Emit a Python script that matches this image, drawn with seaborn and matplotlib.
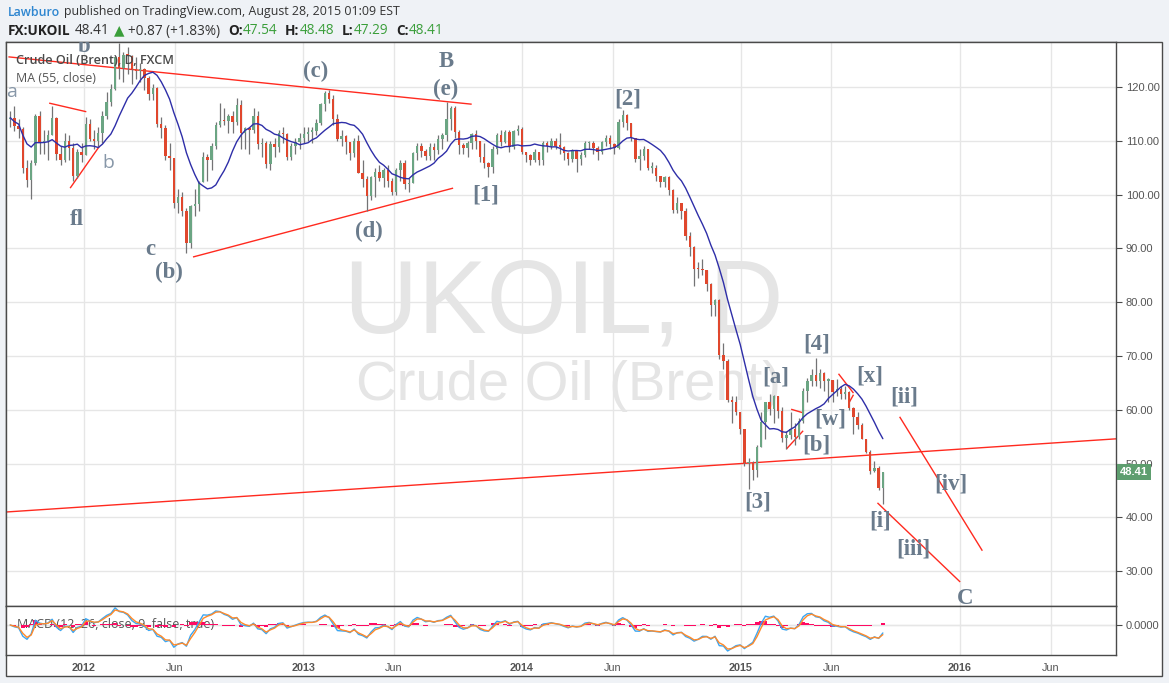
import numpy as np
import pandas as pd
import matplotlib
matplotlib.use("Agg")
import matplotlib.pyplot as plt
import matplotlib.dates as mdates
import matplotlib.transforms as mtransforms
from matplotlib.patches import Rectangle
import seaborn as sns

# ------------------------------------------------------------------ data
week_end = pd.date_range("2011-09-02", "2015-08-28", freq="W-FRI")   # weekly candles
first_open = 114.0
close = [
    # 2011
    114.3, 112.8, 112.2, 105.0, 102.8, 105.9, 114.6, 109.6, 109.9, 111.0, 114.2, 107.6, 106.4, 109.9, 108.6, 103.4, 107.9, 107.4,
    # 2012
    113.1, 110.4, 110.0, 111.5, 114.6, 117.3, 119.6, 125.5, 123.6, 125.9, 125.8, 123.3, 122.9, 123.4, 121.7, 118.7, 119.8, 113.2,
    112.3, 107.1, 106.8, 98.4, 99.5, 97.0, 91.0, 97.8, 98.2, 102.4, 107.0, 106.5, 109.0, 112.9, 113.7, 113.6, 114.6, 113.5,
    116.7, 111.4, 112.4, 112.0, 114.6, 109.4, 109.5, 105.7, 109.4, 108.9, 111.4, 111.2, 107.0, 109.1, 109.7, 110.6,
    # 2013
    111.3, 111.7, 111.9, 113.3, 116.8, 118.9, 117.7, 114.0, 110.4, 110.9, 109.8, 107.8, 110.0, 104.1, 102.9, 99.7, 103.2, 104.2,
    103.0, 104.6, 102.6, 100.4, 104.6, 105.9, 101.9, 102.2, 107.7, 109.0, 108.1, 107.2, 108.9, 108.3, 110.4, 111.0, 114.0, 116.1,
    111.7, 109.2, 108.6, 109.5, 111.3, 109.9, 106.9, 105.9, 105.1, 108.5, 111.1, 109.7, 111.6, 108.8, 111.8, 112.2,
    # 2014
    107.9, 107.3, 106.5, 107.9, 106.4, 109.6, 109.1, 109.9, 109.1, 108.9, 107.7, 106.7, 108.1, 106.7, 107.3, 109.5, 109.6, 108.6,
    108.0, 109.8, 110.5, 109.4, 108.6, 113.4, 114.8, 113.3, 110.6, 106.7, 107.2, 108.4, 105.0, 105.0, 103.5, 102.3, 103.2, 100.8,
    97.1, 98.4, 97.0, 92.3, 90.2, 86.2, 86.1, 85.9, 83.4, 79.4, 80.4, 70.2, 69.1, 61.9, 61.4, 59.5,
    # 2015
    56.4, 50.1, 50.2, 48.8, 53.0, 57.8, 61.5, 60.2, 62.6, 59.7, 54.7, 55.3, 56.4, 54.9, 57.9, 63.5, 65.3, 66.5,
    65.4, 66.8, 65.4, 65.6, 63.3, 63.9, 63.0, 63.3, 60.3, 58.7, 57.1, 54.6, 52.2, 48.6, 49.2, 45.5, 48.41,
]
high = [
    115.5, 116.5, 114.0, 112.5, 106.5, 106.5, 115.0, 115.5, 112.0, 112.0, 116.5, 114.5, 109.0, 111.5, 111.0, 109.5, 108.5, 109.5,
    114.5, 114.0, 112.0, 112.5, 115.5, 119.0, 120.5, 125.8, 128.2, 126.5, 127.5, 126.0, 125.5, 124.5, 123.5, 122.0, 120.5, 120.0,
    114.5, 113.0, 109.5, 106.5, 101.0, 100.5, 97.5, 98.0, 101.0, 102.5, 108.0, 107.5, 109.5, 113.5, 117.0, 116.0, 115.0, 115.5,
    118.0, 117.5, 112.5, 112.5, 116.0, 115.5, 110.5, 110.0, 110.0, 110.5, 112.0, 112.5, 111.5, 109.5, 110.5, 111.5,
    112.5, 112.5, 112.5, 114.0, 117.0, 119.2, 119.5, 118.5, 115.0, 112.0, 111.0, 109.5, 110.5, 111.0, 106.5, 103.5, 103.5, 105.0,
    105.5, 105.0, 105.5, 103.0, 105.0, 106.5, 106.5, 103.0, 108.0, 109.5, 109.5, 108.5, 109.5, 109.5, 111.0, 111.5, 117.3, 116.5,
    116.5, 112.0, 109.5, 110.0, 111.5, 112.0, 110.0, 109.5, 106.0, 109.0, 111.5, 112.0, 112.0, 112.0, 112.0, 113.0,
    112.5, 108.0, 107.5, 108.5, 108.0, 110.0, 110.0, 110.5, 110.5, 111.5, 109.0, 108.0, 108.5, 108.0, 108.0, 110.0, 110.0, 110.0,
    109.0, 110.0, 111.0, 111.0, 109.5, 114.0, 115.7, 115.0, 113.0, 110.5, 108.5, 109.0, 108.5, 106.0, 105.5, 103.5, 103.5, 103.5,
    101.0, 99.5, 98.5, 97.5, 93.0, 90.5, 87.5, 88.0, 86.0, 83.5, 80.5, 80.5, 72.5, 69.5, 62.5, 62.5,
    59.5, 56.5, 51.0, 50.5, 53.5, 59.5, 61.5, 63.0, 62.8, 62.5, 60.5, 56.0, 59.5, 57.5, 58.5, 64.0, 66.0, 67.5,
    69.6, 67.5, 67.0, 66.0, 65.5, 65.8, 64.5, 64.5, 63.5, 60.5, 59.5, 57.5, 54.5, 52.5, 50.5, 49.5, 48.5,
]
low = [
    112.5, 111.8, 110.5, 104.0, 101.5, 99.2, 105.5, 107.5, 107.5, 106.5, 111.0, 106.5, 105.5, 106.0, 106.5, 102.5, 103.0, 106.0,
    107.4, 110.0, 108.5, 109.0, 109.5, 114.0, 116.5, 119.5, 121.5, 121.0, 122.5, 120.5, 121.5, 121.0, 119.5, 117.5, 117.5, 112.5,
    110.5, 106.5, 104.5, 97.5, 96.5, 96.0, 89.2, 90.0, 96.0, 97.0, 102.5, 102.5, 104.5, 108.5, 112.5, 113.0, 111.5, 111.5,
    113.0, 108.5, 108.5, 107.5, 111.5, 108.5, 107.0, 105.0, 104.5, 107.0, 108.0, 109.5, 106.5, 106.5, 107.5, 108.5,
    109.5, 110.0, 109.5, 111.0, 113.0, 115.5, 117.0, 113.0, 110.0, 109.0, 107.5, 106.5, 107.0, 104.0, 101.5, 97.0, 99.0, 99.5,
    102.5, 101.5, 101.5, 100.0, 100.0, 102.5, 101.0, 100.5, 102.2, 106.5, 107.0, 106.5, 106.5, 106.5, 107.5, 108.5, 110.0, 112.0,
    110.5, 107.5, 107.5, 107.0, 108.5, 108.5, 106.0, 105.0, 103.3, 104.0, 107.5, 109.0, 109.5, 108.0, 108.5, 111.0,
    107.5, 106.0, 105.5, 106.0, 105.5, 105.5, 108.0, 108.5, 108.5, 107.5, 106.5, 105.5, 106.0, 104.2, 105.5, 107.0, 108.5, 107.5,
    106.5, 107.5, 109.0, 108.5, 107.5, 108.5, 112.5, 112.0, 110.0, 106.0, 104.5, 106.5, 104.5, 104.0, 102.5, 101.5, 101.5, 100.0,
    96.5, 96.5, 95.5, 91.5, 88.5, 83.0, 84.5, 85.0, 82.0, 77.5, 77.5, 69.5, 67.5, 61.5, 57.5, 59.0,
    55.5, 49.5, 45.2, 47.0, 47.5, 53.0, 54.5, 59.0, 57.5, 58.5, 54.0, 52.8, 54.5, 53.5, 54.5, 57.5, 61.5, 64.5,
    64.5, 64.0, 63.5, 61.5, 61.5, 62.5, 62.0, 62.0, 60.0, 55.5, 56.5, 54.5, 52.0, 48.0, 48.5, 45.0, 42.5,
]

ma_days = 55            # MA (55, close) -> 11 weekly bars
macd_params = (12, 26, 9)

x_tick_dates = ["2012-01-01", "2012-06-01", "2013-01-01", "2013-06-01", "2014-01-01",
                "2014-06-01", "2015-01-01", "2015-06-01", "2016-01-01", "2016-06-01"]
x_tick_labels = ["2012", "Jun", "2013", "Jun", "2014", "Jun", "2015", "Jun", "2016", "Jun"]
price_ticks = [30, 40, 50, 60, 70, 80, 90, 100, 110, 120]
last_price = 48.41

# Elliott-wave annotations (date, price, text, style)
wave_labels = [
    ("2012-01-02", 127.6, "b", "serif"),
    ("2011-09-02", 119.1, "a", "sans"),
    ("2012-02-11", 105.9, "b", "sans"),
    ("2011-12-21", 95.3, "fl", "serif"),
    ("2012-04-21", 89.7, "c", "serif"),
    ("2012-05-22", 85.6, "(b)", "serif"),
    ("2013-01-22", 122.8, "(c)", "serif"),
    ("2013-08-27", 124.8, "B", "serif"),
    ("2013-08-27", 119.6, "(e)", "serif"),
    ("2013-04-21", 93.2, "(d)", "serif"),
    ("2013-11-01", 99.9, "[1]", "serif"),
    ("2014-06-26", 117.8, "[2]", "serif"),
    ("2015-01-30", 42.9, "[3]", "serif"),
    ("2015-05-07", 72.2, "[4]", "serif"),
    ("2015-03-01", 66.1, "[a]", "serif"),
    ("2015-05-07", 53.5, "[b]", "serif"),
    ("2015-05-31", 58.3, "[w]", "serif"),
    ("2015-08-04", 66.3, "[x]", "serif"),
    ("2015-08-22", 39.3, "[i]", "serif"),
    ("2015-10-01", 62.4, "[ii]", "serif"),
    ("2015-10-16", 34.1, "[iii]", "serif"),
    ("2015-12-17", 46.2, "[iv]", "serif"),
    ("2016-01-10", 25.0, "C", "serif"),
]
# drawn trend lines (start date, start price, end date, end price)
trend_lines = [
    ("2011-08-28", 125.6, "2013-10-09", 116.8),
    ("2012-07-01", 88.4, "2013-09-08", 101.2),
    ("2011-11-04", 117.0, "2012-01-05", 115.4),
    ("2011-12-09", 101.2, "2012-01-27", 109.0),
    ("2011-08-24", 41.0, "2016-09-18", 54.6),
    ("2015-03-18", 52.7, "2015-04-15", 56.1),
    ("2015-03-26", 60.1, "2015-04-16", 59.4),
    ("2015-06-13", 66.7, "2015-07-08", 63.1),
    ("2015-07-01", 61.4, "2015-07-08", 62.8),
    ("2015-08-17", 42.7, "2016-01-02", 28.0),
    ("2015-09-23", 58.7, "2016-02-08", 33.8),
]

# ------------------------------------------------------------------ derived series
df = pd.DataFrame({"date": week_end, "close": close, "high": high, "low": low})
df["open"] = [first_open] + close[:-1]
df["high"] = df[["high", "open", "close"]].max(axis=1)
df["low"] = df[["low", "open", "close"]].min(axis=1)
df["x"] = mdates.date2num(df["date"] - pd.Timedelta(days=2))
wk = ma_days // 5
df["ma"] = df["close"].rolling(wk, min_periods=1).mean()
def wk_alpha(n):
    return 1 - (1 - 2 / (n + 1)) ** 5
ema_f = df["close"].ewm(alpha=wk_alpha(macd_params[0]), adjust=False).mean()
ema_s = df["close"].ewm(alpha=wk_alpha(macd_params[1]), adjust=False).mean()
df["macd"] = ema_f - ema_s
df["signal"] = df["macd"].ewm(alpha=wk_alpha(macd_params[2]), adjust=False).mean()
df["hist"] = df["macd"] - df["signal"]

# ------------------------------------------------------------------ figure
sns.set_theme(style="white")
plt.rcParams["font.family"] = ["Liberation Sans", "DejaVu Sans"]

W, H = 1169, 683
fig = plt.figure(figsize=(W / 100, H / 100), dpi=100)
fig.patch.set_facecolor("#eff2f6")
fx = lambda px: px / W
fy = lambda py: 1 - py / H

fig.patches.append(Rectangle((fx(6), fy(676)), fx(1162) - fx(6), fy(42) - fy(676),
                             transform=fig.transFigure, facecolor="white",
                             edgecolor="#4a4a4a", lw=1.0, zorder=-5))

ax = fig.add_axes([fx(6), fy(606), fx(1116) - fx(6), fy(42) - fy(606)])
axm = fig.add_axes([fx(6), fy(655), fx(1116) - fx(6), fy(606) - fy(655)], sharex=ax)

xmin = mdates.date2num(pd.Timestamp("2011-08-24"))
xmax = mdates.date2num(pd.Timestamp("2016-09-18"))
ax.set_xlim(xmin, xmax)
ax.set_ylim(23.53, 128.36)

grid_c = "#e6e6e6"
ticks_x = mdates.date2num(pd.to_datetime(x_tick_dates))
for a in (ax, axm):
    a.set_facecolor("white")
    a.set_axisbelow(True)
    for s in a.spines.values():
        s.set_color("#4a4a4a")
        s.set_linewidth(1.0)
    a.set_xticks(ticks_x)
    a.grid(True, color=grid_c, lw=1.0)

# watermark
ax.text(fx(564), fy(333), "UKOIL, D", transform=fig.transFigure, ha="center", va="baseline",
        fontsize=74, color="#e5e5e5", zorder=0.6, family=["Liberation Sans"])
ax.text(fx(569), fy(400), "Crude Oil (Brent)", transform=fig.transFigure, ha="center",
        va="baseline", fontsize=40.5, color="#e5e5e5", zorder=0.6, family=["Liberation Sans"])

# trend lines
for d0, p0, d1, p1 in trend_lines:
    ax.plot(mdates.date2num(pd.to_datetime([d0, d1])), [p0, p1], color="#ff2a1f",
            lw=1.0, zorder=2, solid_capstyle="butt")

# candles
up = df["close"] >= df["open"]
ax.vlines(df["x"], df["low"], df["high"], color="#737375", lw=0.9, zorder=3)
body = (df["close"] - df["open"]).abs().clip(lower=0.25)
bottom = df[["open", "close"]].min(axis=1)
ax.bar(df["x"][up], body[up], bottom=bottom[up], width=4.0, color="#6ba583", lw=0, zorder=3.5)
ax.bar(df["x"][~up], body[~up], bottom=bottom[~up], width=4.0, color="#e0472d", lw=0, zorder=3.5)

# moving average
sns.lineplot(x=df["x"], y=df["ma"], ax=ax, color="#2e2ea8", lw=1.0, zorder=4, legend=False)
ax.set_xlabel("")
ax.set_ylabel("")

# wave labels
for d, p, s, style in wave_labels:
    if style == "serif":
        ax.text(mdates.date2num(pd.Timestamp(d)), p, s, ha="center", va="center",
                family=["Liberation Serif"], fontweight="bold", fontsize=16.5,
                color="#6a7b8c", zorder=6, clip_on=True)
    else:
        ax.text(mdates.date2num(pd.Timestamp(d)), p, s, ha="center", va="center",
                family=["Open Sans", "DejaVu Sans"], fontsize=14, color="#8797a8",
                zorder=6, clip_on=True)

# legend text
ax.text(fx(16), fy(61), "Crude Oil (Brent), D, FXCM", transform=fig.transFigure, ha="left",
        va="center", fontsize=9.1, fontweight="semibold", color="#4a4a4a",
        family=["Open Sans", "DejaVu Sans"], zorder=7)
ax.text(fx(16), fy(78), "MA (55, close)", transform=fig.transFigure, ha="left",
        va="center", fontsize=8.9, color="#555555", family=["Open Sans", "DejaVu Sans"], zorder=7)

# price axis
ax.yaxis.tick_right()
ax.set_yticks(price_ticks)
ax.set_yticklabels([f"{v:.2f}" for v in price_ticks])
ax.tick_params(axis="y", which="both", right=True, length=4, width=0.8, color="#4a4a4a",
               labelsize=8, labelcolor="#555555", pad=3)
ax.tick_params(axis="x", length=0, labelbottom=False)

blend = mtransforms.blended_transform_factory(ax.transAxes, ax.transData)
ax.text((1120 - 6) / 1110, last_price, f"{last_price:.2f}", transform=blend, ha="left",
        va="center", fontsize=8, fontweight="bold", color="white", zorder=10, clip_on=False,
        bbox=dict(boxstyle="square,pad=0.28", fc="#5e9e6f", ec="none"))

# MACD panel
axm.axhline(0, color=grid_c, lw=1.0, zorder=0.5)
axm.bar(df["x"], df["hist"], width=7.0, color="#ff0a63", lw=0, zorder=2)
sns.lineplot(x=df["x"], y=df["macd"], ax=axm, color="#3ba6f2", lw=1.0, zorder=3, legend=False)
sns.lineplot(x=df["x"], y=df["signal"], ax=axm, color="#ff8a2a", lw=1.0, zorder=3, legend=False)
axm.set_xlabel("")
axm.set_ylabel("")
mn = df["macd"].min()
lo = mn * 30 / 26
axm.set_ylim(lo, -lo * 19 / 30)
axm.yaxis.tick_right()
axm.set_yticks([0])
axm.set_yticklabels(["0.0000"])
axm.tick_params(axis="y", right=True, length=4, width=0.8, color="#4a4a4a",
                labelsize=8, labelcolor="#555555", pad=3)
axm.set_xticklabels(x_tick_labels)
axm.tick_params(axis="x", length=0, pad=6, labelsize=7.8, labelcolor="#555555")
for lab in axm.get_xticklabels():
    if lab.get_text() != "Jun":
        lab.set_fontweight("bold")
axm.text(fx(17), fy(625), "MACD (12, 26, close, 9, false, true)", transform=fig.transFigure,
         ha="left", va="center", fontsize=9.0, color="#555555", zorder=1,
         family=["Open Sans", "DejaVu Sans"])

# header
renderer = fig.canvas.get_renderer()
def draw_row(x_px, y_px, parts, size):
    x = x_px
    for gap, s, color, weight in parts:
        x += gap
        t = fig.text(fx(x), fy(y_px), s, ha="left", va="center", fontsize=size,
                     color=color, fontweight=weight, family=["Open Sans", "DejaVu Sans"])
        bb = t.get_window_extent(renderer)
        x += bb.width
green = "#3a9e3a"
draw_row(8, 12, [(0, "Lawburo", "#2e86d0", "semibold"),
                 (4, "published on TradingView.com, August 28, 2015 01:09 EST", "#333333", "normal")], 8.9)
draw_row(8, 31, [(0, "FX:UKOIL", "#222222", "bold"),
                 (4, "48.41", "#333333", "normal"),
                 (5, "▲", green, "normal"),
                 (3, "+0.87 (+1.83%)", "#333333", "normal"),
                 (8, "O:", "#222222", "bold"), (0, "47.54", green, "normal"),
                 (8, "H:", "#222222", "bold"), (0, "48.48", green, "normal"),
                 (8, "L:", "#222222", "bold"), (0, "47.29", green, "normal"),
                 (8, "C:", "#222222", "bold"), (0, "48.41", green, "normal")], 9.8)

fig.savefig("out.png", dpi=100, facecolor=fig.get_facecolor())
